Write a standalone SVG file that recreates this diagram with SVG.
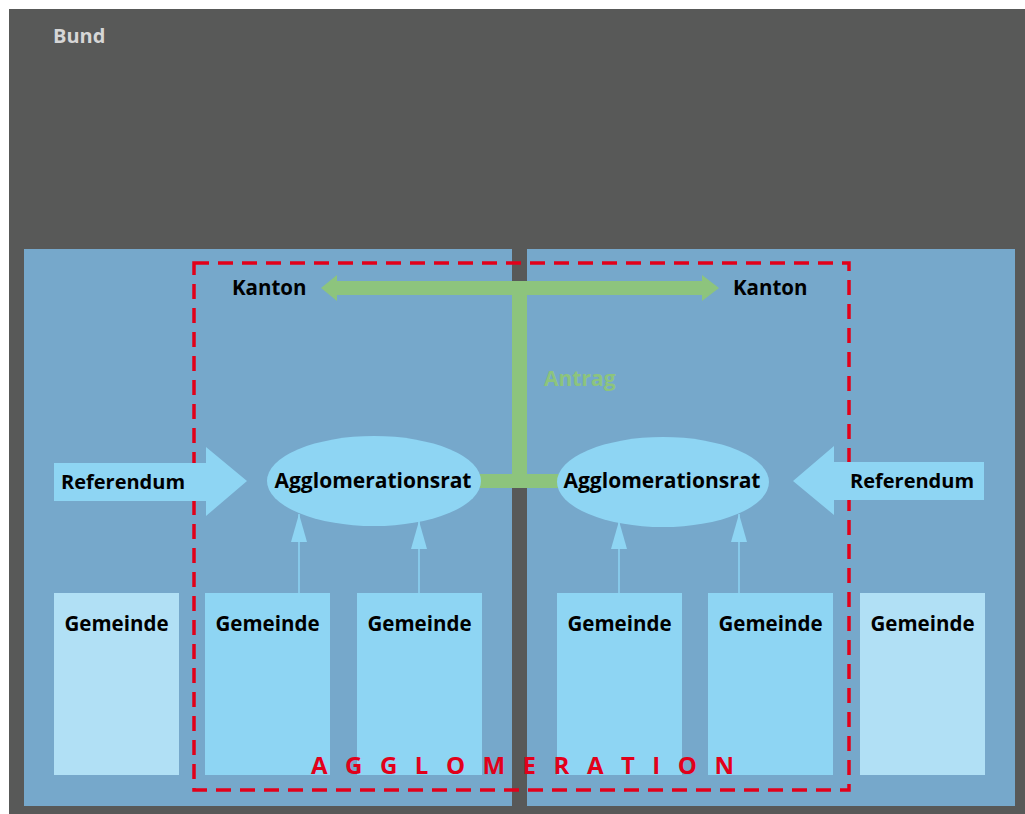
<svg xmlns="http://www.w3.org/2000/svg" width="1025" height="814" viewBox="0 0 1025 814">
  <style>
    .lbl { font-family: "Open Sans", "Liberation Sans", sans-serif; font-weight: bold; fill: #000; }
    .panel { fill: #76a8cb; }
    .box { fill: #8ed5f3; }
    .boxPale { fill: #b1e0f5; }
    .ell { fill: #8ed5f3; }
    .green { fill: #8dc47d; }
    .thin { stroke: #8ed5f3; stroke-width: 1.5; fill: none; }
  </style>
  <defs>
    <marker id="tip" markerWidth="28" markerHeight="16" refX="28" refY="8" orient="auto" markerUnits="userSpaceOnUse" viewBox="0 0 28 16">
      <path d="M28 8 L0 0 L0 16 Z" fill="#8ed5f3"/>
    </marker>
  </defs>

  <!-- federal level background -->
  <rect x="9" y="9" width="1016" height="805" fill="#585958"/>
  <text x="53" y="43" class="lbl" style="fill:#d6d6d6" font-size="20">Bund</text>

  <!-- two cantons -->
  <rect class="panel" x="24" y="249" width="488" height="557"/>
  <rect class="panel" x="527" y="249" width="488" height="557"/>

  <!-- agglomeration boundary -->
  <rect x="194" y="263" width="655" height="527" fill="none" stroke="#e2001a" stroke-width="3.5" stroke-dasharray="15 9"/>

  <!-- connectors -->
  <g id="connectors">
    <!-- Antrag: council to both cantons -->
    <path class="green" d="M321 288 L337 275 L337 281 L702 281 L702 275 L719 288 L702 301 L702 295 L337 295 L337 301 Z"/>
    <rect class="green" x="512" y="281" width="15" height="207"/>
    <rect class="green" x="478" y="474" width="82" height="14"/>
    <text x="544" y="386" class="lbl" style="fill:#8dc47d" font-size="21">Antrag</text>

    <!-- municipalities to councils -->
    <line class="thin" x1="299" y1="593" x2="299" y2="514" marker-end="url(#tip)"/>
    <line class="thin" x1="419" y1="593" x2="419" y2="521" marker-end="url(#tip)"/>
    <line class="thin" x1="619" y1="593" x2="619" y2="521" marker-end="url(#tip)"/>
    <line class="thin" x1="739" y1="593" x2="739" y2="514" marker-end="url(#tip)"/>
  </g>

  <!-- referendum arrows -->
  <g id="referendum-left">
    <path class="box" d="M54 463 L206 463 L206 447 L247 481 L206 516 L206 501 L54 501 Z"/>
    <text x="61" y="489" class="lbl" font-size="20">Referendum</text>
  </g>
  <g id="referendum-right">
    <path class="box" d="M984 462 L834 462 L834 446 L793 481 L834 515 L834 500 L984 500 Z"/>
    <text x="850" y="488" class="lbl" font-size="20">Referendum</text>
  </g>

  <!-- cantonal labels -->
  <g id="kanton-left"><text x="232" y="295" class="lbl" font-size="20.5">Kanton</text></g>
  <g id="kanton-right"><text x="733" y="295" class="lbl" font-size="20.5">Kanton</text></g>

  <!-- agglomeration councils -->
  <g id="rat-left">
    <ellipse class="ell" cx="374" cy="481" rx="107" ry="45"/>
    <text x="373" y="488" class="lbl" font-size="21" text-anchor="middle">Agglomerationsrat</text>
  </g>
  <g id="rat-right">
    <ellipse class="ell" cx="663" cy="482" rx="106" ry="45"/>
    <text x="662" y="488" class="lbl" font-size="21" text-anchor="middle">Agglomerationsrat</text>
  </g>

  <!-- municipalities -->
  <g id="gemeinde-1"><rect class="boxPale" x="54" y="593" width="125" height="182"/><text x="116.5" y="631" class="lbl" font-size="20.5" text-anchor="middle">Gemeinde</text></g>
  <g id="gemeinde-2"><rect class="box" x="205" y="593" width="125" height="182"/><text x="267.5" y="631" class="lbl" font-size="20.5" text-anchor="middle">Gemeinde</text></g>
  <g id="gemeinde-3"><rect class="box" x="357" y="593" width="125" height="182"/><text x="419.5" y="631" class="lbl" font-size="20.5" text-anchor="middle">Gemeinde</text></g>
  <g id="gemeinde-4"><rect class="box" x="557" y="593" width="125" height="182"/><text x="619.5" y="631" class="lbl" font-size="20.5" text-anchor="middle">Gemeinde</text></g>
  <g id="gemeinde-5"><rect class="box" x="708" y="593" width="125" height="182"/><text x="770.5" y="631" class="lbl" font-size="20.5" text-anchor="middle">Gemeinde</text></g>
  <g id="gemeinde-6"><rect class="boxPale" x="860" y="593" width="125" height="182"/><text x="922.5" y="631" class="lbl" font-size="20.5" text-anchor="middle">Gemeinde</text></g>

  <!-- boundary caption -->
  <text x="311" y="774" class="lbl" style="fill:#e2001a" font-size="24" letter-spacing="17.5">AGGLOMERATION</text>
</svg>
